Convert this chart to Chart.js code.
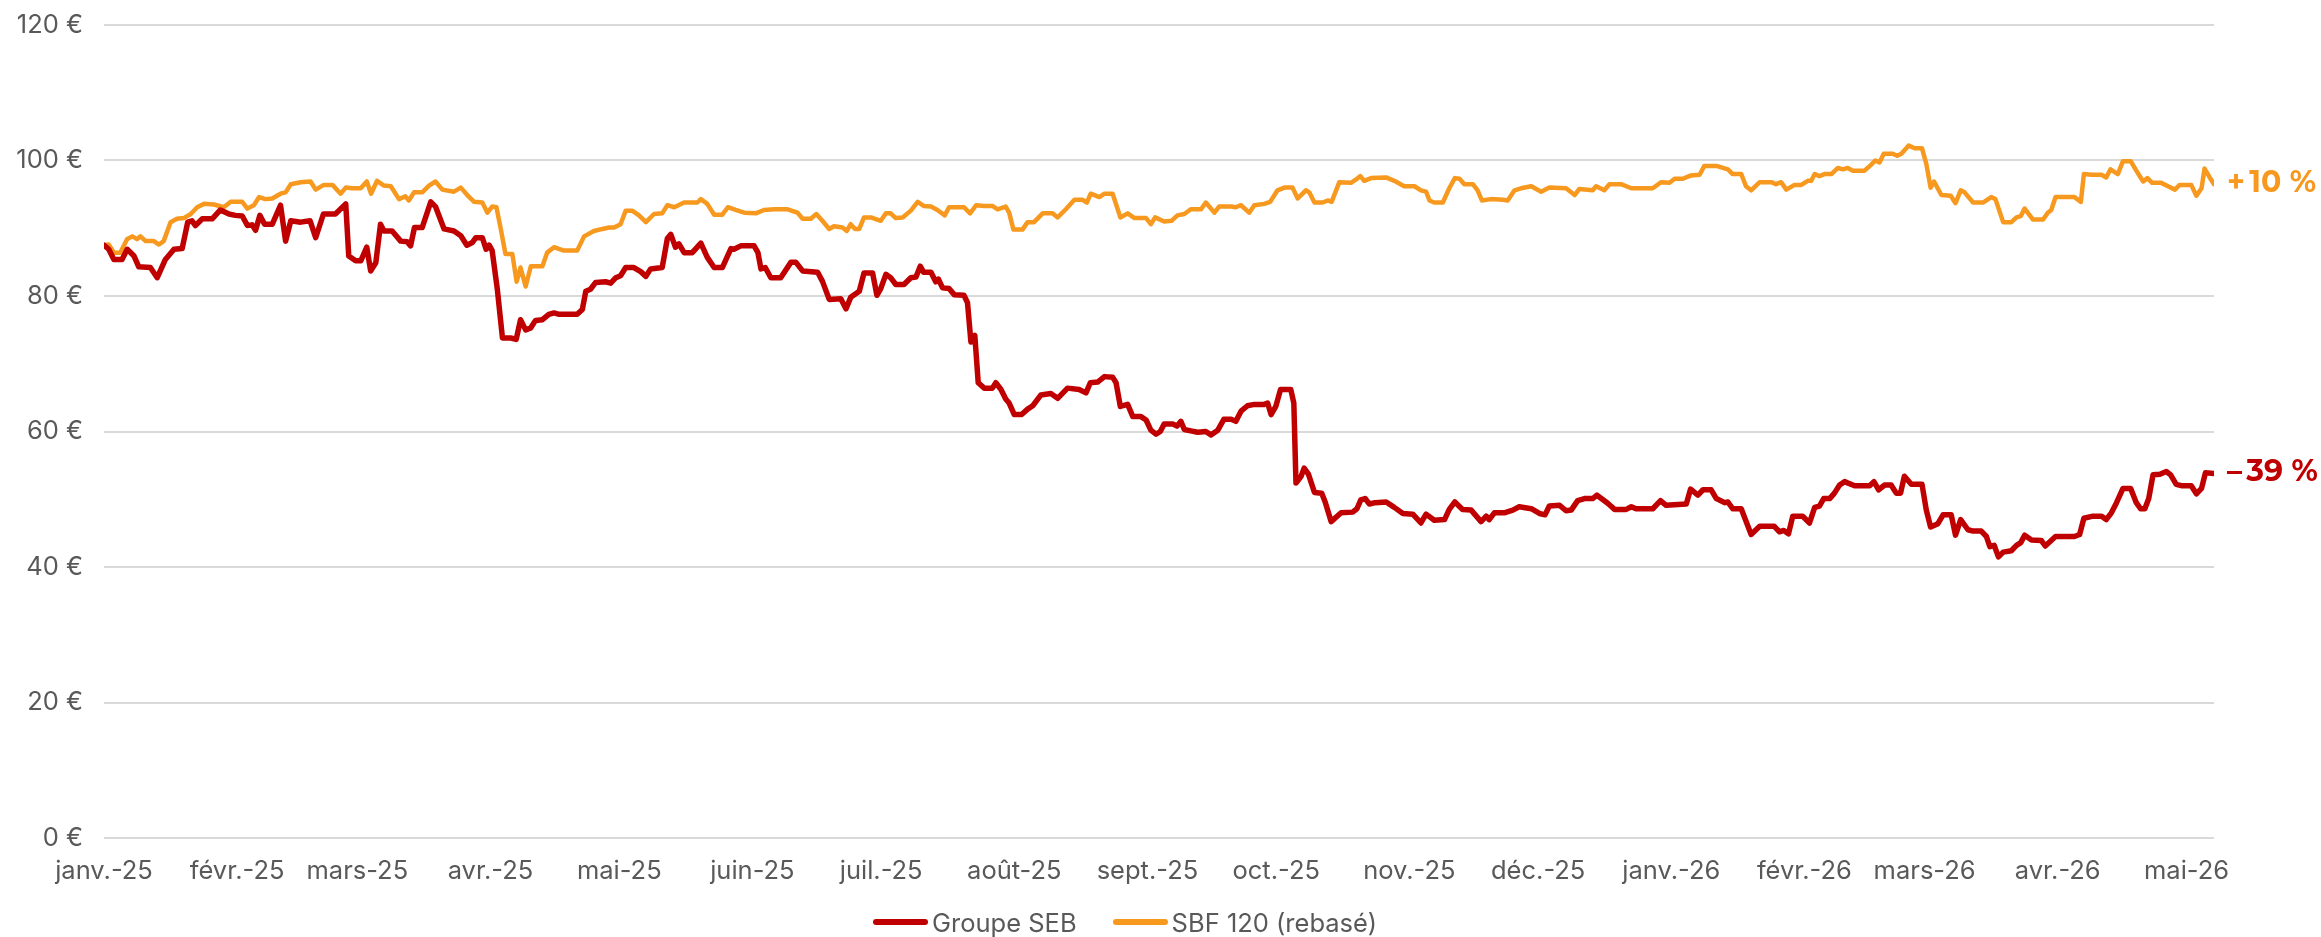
<!DOCTYPE html>
<html lang="fr">
<head>
<meta charset="utf-8">
<title>Groupe SEB vs SBF 120</title>
<script src="https://cdn.jsdelivr.net/npm/chart.js@4.4.1/dist/chart.umd.min.js"></script>
<style>
  html, body { margin: 0; padding: 0; background: #ffffff; }
  #wrap { position: relative; width: 2321px; height: 937px; }
  #chart { position: absolute; left: 0; top: 0; }
  #legend { position: absolute; left: 873px; top: 905px; height: 34px; display: flex; align-items: center;
            font-family: Inter, "Noto Sans", sans-serif; font-size: 25.5px; color: #595959; white-space: nowrap; }
  .item { display: flex; align-items: center; margin-right: 36px; }
  .mark { display: inline-block; width: 55px; height: 6px; border-radius: 3px; margin-right: 4px; }
</style>
</head>
<body>
<div id="wrap">
  <canvas id="chart" width="2321" height="937"></canvas>
  <div id="legend"></div>
</div>
<script>
// ---- Data (days counted from 2025-01-01) ----
const seriesNames = ['Groupe SEB', 'SBF 120 (rebasé)'];
const seriesColors = ['#C00000', '#F7981F'];
const endLabels = ['\u2013\u200939\u00a0%', '+\u200910\u00a0%'];

const sebDays = [0.0,1.1,2.3,4.2,5.4,7.0,8.1,10.8,12.4,14.3,16.3,18.2,19.5,20.5,21.3,22.9,25.2,27.1,29.1,30.6,32.2,33.4,34.5,35.3,36.3,37.4,39.2,41.1,42.3,43.5,45.8,48.0,49.3,51.1,53.9,56.3,57.0,58.6,59.8,61.2,62.1,63.3,64.4,65.2,67.1,69.1,70.6,71.4,72.3,74.1,76.1,77.2,79.2,81.5,83.1,84.5,85.8,86.6,88.1,89.0,89.7,90.4,91.6,92.8,94.7,96.0,97.0,98.2,99.4,100.5,102.1,103.6,104.8,106.0,110.2,111.4,112.2,113.3,114.5,116.8,118.0,119.2,120.3,121.5,123.4,125.0,126.2,127.3,130.0,131.2,132.0,133.1,133.9,135.1,137.0,139.0,140.5,142.1,144.0,146.0,146.7,148.3,151.4,152.3,153.0,154.0,155.3,157.6,160.0,161.1,162.7,166.2,167.3,168.9,171.6,172.8,173.9,175.9,177.0,179.0,180.0,180.9,182.1,183.2,184.4,186.3,187.9,189.1,190.1,190.9,192.6,193.7,194.3,195.3,196.8,198.0,200.3,201.1,201.9,202.8,203.6,205.0,206.9,207.7,208.9,210.0,210.8,212.0,213.7,215.1,216.3,218.2,220.5,222.1,224.4,227.1,228.7,229.7,231.4,233.0,234.9,235.7,236.7,238.4,239.6,241.5,242.7,243.8,245.0,246.0,246.9,248.9,249.9,250.8,251.6,253.1,254.7,256.6,257.8,259.4,260.8,262.5,263.6,264.8,266.3,267.9,270.2,271.0,271.8,272.9,274.0,276.4,277.1,277.6,278.8,279.5,280.5,281.9,283.6,284.4,285.8,288.1,290.8,291.8,292.7,293.7,294.7,296.0,298.6,300.5,302.5,304.8,306.7,307.9,309.8,312.2,313.3,314.6,316.4,318.4,320.7,321.9,322.6,323.8,326.1,328.1,329.6,332.4,334.3,335.6,336.6,339.0,340.5,341.7,343.2,344.8,346.7,347.7,350.2,351.8,354.5,355.7,356.8,360.7,362.5,363.8,368.5,369.5,371.2,372.4,374.3,375.5,377.4,378.2,379.3,381.3,383.6,385.6,389.0,390.2,391.2,392.3,393.3,395.6,397.2,398.4,399.5,400.5,401.9,403.0,404.2,405.4,406.5,407.7,411.2,412.2,413.3,414.7,416.2,417.4,418.4,419.3,420.9,423.4,424.4,425.4,427.1,428.3,430.2,431.2,432.4,434.1,435.3,437.2,438.4,439.2,440.2,441.2,442.3,444.2,445.4,446.4,447.3,448.9,451.2,452.1,454.5,458.9,460.1,461.1,463.2,465.2,466.3,467.5,468.7,470.2,472.0,473.3,474.3,475.3,476.2,477.2,478.8,480.3,481.3,482.6,483.8,486.1,487.3,488.5,489.4,491.4];
const sebValues = [87.5,86.9,85.4,85.4,86.9,85.9,84.3,84.2,82.7,85.4,86.9,87.0,90.9,91.1,90.4,91.4,91.4,92.7,92.1,91.9,91.8,90.4,90.5,89.7,91.9,90.6,90.6,93.4,88.1,91.1,90.9,91.1,88.6,92.1,92.1,93.6,85.9,85.2,85.2,87.2,83.7,84.9,90.6,89.6,89.6,88.1,88.0,87.4,90.1,90.1,93.9,93.2,89.9,89.6,88.9,87.5,87.9,88.6,88.6,86.9,87.5,86.7,81.0,73.8,73.8,73.6,76.5,75.0,75.3,76.4,76.5,77.3,77.5,77.3,77.3,78.0,80.7,81.0,82.0,82.1,81.9,82.7,83.0,84.2,84.2,83.6,82.9,84.0,84.2,88.5,89.1,87.2,87.7,86.4,86.4,87.8,85.7,84.2,84.2,87.0,86.9,87.4,87.4,86.4,84.0,84.2,82.7,82.7,85.0,85.0,83.7,83.5,82.2,79.5,79.6,78.1,79.8,80.7,83.4,83.4,80.1,81.1,83.2,82.7,81.7,81.7,82.7,82.8,84.4,83.5,83.5,82.1,82.5,81.2,81.1,80.2,80.1,79.0,73.2,74.2,67.2,66.4,66.4,67.2,66.2,64.8,64.2,62.5,62.5,63.3,63.8,65.4,65.6,64.9,66.4,66.2,65.7,67.2,67.3,68.1,68.0,67.2,63.7,64.0,62.2,62.2,61.7,60.2,59.6,60.0,61.1,61.1,60.8,61.5,60.3,60.1,59.9,60.0,59.5,60.2,61.8,61.8,61.5,63.0,63.8,64.0,64.0,64.2,62.5,63.7,66.2,66.2,64.2,52.4,53.4,54.6,53.7,51.0,50.9,49.6,46.7,48.0,48.1,48.6,49.9,50.1,49.3,49.5,49.6,48.8,47.9,47.8,46.5,47.8,46.9,47.0,48.5,49.6,48.5,48.4,46.7,47.5,47.0,48.0,48.0,48.4,48.9,48.6,47.9,47.7,49.0,49.1,48.3,48.4,49.8,50.1,50.1,50.6,49.4,48.5,48.5,48.9,48.6,48.6,49.8,49.1,49.3,51.5,50.6,51.4,51.4,50.1,49.5,49.6,48.6,48.6,44.8,46.0,46.0,45.2,45.4,44.9,47.5,47.5,46.5,48.8,49.0,50.1,50.1,50.9,52.1,52.6,52.3,52.0,52.0,52.6,51.4,52.1,52.1,50.9,50.9,53.4,52.2,52.2,48.4,45.9,46.4,47.7,47.7,44.7,47.0,45.5,45.3,45.3,44.5,43.0,43.2,41.5,42.2,42.4,43.2,43.6,44.7,44.0,43.9,43.1,44.5,44.5,44.8,47.2,47.5,47.5,47.0,48.0,49.5,51.6,51.6,49.5,48.6,48.6,50.1,53.6,53.7,54.1,53.6,52.2,52.0,52.0,50.8,51.6,53.9,53.8];

const sbfDays = [0.0,1.1,2.3,3.8,5.4,6.6,7.7,8.5,9.7,11.6,12.8,13.9,15.5,17.0,18.6,20.2,21.7,23.3,25.6,27.9,29.5,32.2,33.4,34.9,36.1,37.6,39.2,41.1,42.3,43.5,45.8,48.1,49.3,51.2,53.2,55.1,56.3,57.8,59.8,61.2,62.2,63.6,65.2,66.8,68.7,70.2,71.0,72.2,74.1,75.7,77.2,78.8,81.5,83.1,84.6,86.2,88.1,89.3,90.4,91.4,92.4,93.5,95.1,96.1,97.0,98.2,99.4,102.1,103.2,104.8,107.1,110.2,111.8,114.1,116.1,117.6,118.8,120.3,121.5,123.0,124.6,126.2,128.1,130.0,131.2,132.8,135.1,138.2,139.0,140.5,142.1,144.0,145.3,147.1,149.1,151.8,153.7,156.1,159.2,161.5,162.7,164.6,165.9,167.3,168.9,170.0,172.0,173.0,173.9,174.9,175.9,177.0,178.6,180.9,182.1,183.2,184.4,186.0,187.9,189.5,190.9,192.6,194.1,195.8,196.8,200.3,201.7,203.1,205.0,206.9,208.1,210.0,210.8,211.8,213.9,215.1,216.6,218.6,220.9,222.1,224.0,226.0,227.9,228.9,229.8,231.8,233.0,234.9,236.7,238.4,240.0,242.7,243.8,244.8,246.9,248.6,250.0,251.6,253.1,255.5,256.6,258.6,259.7,262.5,263.6,264.8,266.7,267.9,270.2,271.6,273.3,274.9,276.8,278.0,279.9,280.7,281.9,283.8,285.0,285.9,287.7,290.4,291.6,292.6,293.5,295.1,298.6,300.5,302.8,305.2,306.7,307.9,308.7,309.8,311.8,313.3,314.6,315.7,316.8,318.8,319.9,320.9,323.0,325.8,326.9,328.5,330.0,332.4,334.7,336.6,340.5,342.5,343.6,346.7,347.5,349.4,350.6,353.3,355.7,360.7,362.6,364.6,365.8,367.7,369.6,371.6,372.7,375.5,378.2,379.3,381.3,382.4,383.6,385.6,388.3,389.4,390.6,391.8,393.7,395.3,396.8,397.6,398.4,399.5,400.7,402.3,403.8,405.0,406.1,407.3,410.0,411.6,412.5,413.5,414.5,416.6,417.6,418.6,420.3,421.7,423.4,424.4,425.4,426.2,427.9,430.1,431.2,432.4,433.3,435.3,437.6,439.5,440.5,442.3,444.2,445.4,446.4,447.3,449.2,451.6,452.7,453.5,454.5,458.9,460.4,461.1,462.8,465.2,466.3,467.3,469.0,470.2,472.0,473.3,474.9,475.9,477.0,479.1,480.7,482.3,483.4,486.1,487.3,488.5,489.2,490.4,491.4];
const sbfValues = [87.5,87.6,86.4,86.4,88.4,88.8,88.4,88.8,88.1,88.1,87.6,88.1,90.9,91.4,91.5,92.1,93.1,93.6,93.5,93.1,93.9,93.9,92.9,93.4,94.6,94.3,94.4,95.1,95.3,96.5,96.8,96.9,95.7,96.4,96.4,95.1,96.0,95.9,95.9,96.9,95.1,97.0,96.3,96.2,94.3,94.7,94.1,95.3,95.3,96.3,96.9,95.7,95.4,96.0,94.9,93.9,93.8,92.3,93.2,93.1,89.9,86.2,86.2,82.1,84.2,81.4,84.4,84.4,86.4,87.2,86.7,86.7,88.8,89.6,89.9,90.1,90.1,90.6,92.6,92.6,91.9,90.9,92.1,92.2,93.4,93.1,93.8,93.8,94.3,93.6,92.0,92.0,93.1,92.7,92.3,92.2,92.7,92.8,92.8,92.3,91.4,91.4,92.1,91.1,89.9,90.3,90.1,89.6,90.6,89.9,89.9,91.6,91.6,91.1,92.2,92.2,91.5,91.6,92.6,93.9,93.3,93.2,92.7,91.9,93.1,93.1,92.2,93.4,93.3,93.3,92.8,93.2,92.3,89.8,89.8,90.9,90.9,92.2,92.2,91.6,92.8,94.2,94.2,93.8,95.1,94.6,95.1,95.1,91.6,92.2,91.5,91.5,90.6,91.6,91.0,91.1,91.9,92.1,92.8,92.8,93.8,92.3,93.2,93.2,93.1,93.4,92.3,93.4,93.6,93.9,95.6,96.0,96.0,94.4,95.6,95.3,93.8,93.8,94.1,93.9,96.8,96.7,97.2,97.7,97.0,97.4,97.5,97.0,96.2,96.2,95.6,95.4,94.1,93.8,93.8,95.9,97.4,97.3,96.5,96.5,95.6,94.1,94.3,94.2,94.1,95.6,95.9,96.2,95.4,96.0,95.9,94.9,95.8,95.6,96.2,95.6,96.5,96.5,95.9,95.9,96.8,96.7,97.3,97.3,97.8,97.9,99.2,99.2,98.7,98.0,98.0,96.2,95.6,96.8,96.8,96.5,96.8,95.7,96.4,96.4,97.0,97.0,98.0,97.7,98.0,98.0,98.9,98.7,98.9,98.5,98.5,99.4,100.0,99.7,101.0,101.0,100.7,101.0,102.2,101.8,101.8,99.5,96.0,96.9,94.9,94.8,93.7,95.6,95.3,93.8,93.8,94.6,94.3,90.9,90.9,91.6,91.8,92.9,91.3,91.3,92.3,92.7,94.6,94.6,93.9,98.0,97.9,97.9,97.5,98.7,98.0,99.9,99.9,98.5,96.9,97.4,96.7,96.7,96.2,95.7,96.4,96.4,94.8,95.9,98.8,97.5,96.5];

// ---- Tick labels ----
const monthStarts = ['2025-01-01','2025-02-01','2025-03-01','2025-04-01','2025-05-01','2025-06-01','2025-07-01','2025-08-01','2025-09-01','2025-10-01','2025-11-01','2025-12-01','2026-01-01','2026-02-01','2026-03-01','2026-04-01','2026-05-01'];
const monthLabels = ['janv.-25','févr.-25','mars-25','avr.-25','mai-25','juin-25','juil.-25','août-25','sept.-25','oct.-25','nov.-25','déc.-25','janv.-26','févr.-26','mars-26','avr.-26','mai-26'];
const yTickValues = [0, 20, 40, 60, 80, 100, 120];
const yTickLabels = ['0 €', '20 €', '40 €', '60 €', '80 €', '100 €', '120 €'];

// ---- Build ----
const origin = Date.UTC(2025, 0, 1);
const monthDays = monthStarts.map(s => {
  const [y, m, d] = s.split('-').map(Number);
  return Math.round((Date.UTC(y, m - 1, d) - origin) / 86400000);
});
const toPoints = (xs, ys) => xs.map((x, i) => ({ x: x, y: ys[i] }));
const lastDay = Math.max(sebDays[sebDays.length - 1], sbfDays[sbfDays.length - 1]);

const endLabelPlugin = {
  id: 'endLabels',
  afterDatasetsDraw(chart) {
    const ctx = chart.ctx;
    ctx.save();
    ctx.font = '700 30px Montserrat, "DejaVu Sans", Inter, sans-serif';
    ctx.textBaseline = 'middle';
    ctx.textAlign = 'left';
    chart.data.datasets.forEach((ds, i) => {
      const meta = chart.getDatasetMeta(i);
      const pt = meta.data[meta.data.length - 1];
      ctx.fillStyle = ds.borderColor;
      ctx.fillText(endLabels[i], chart.chartArea.right + 13, pt.y - 1);
    });
    ctx.restore();
  }
};

const textColor = '#595959';
const tickFont = { family: 'Inter, "Noto Sans", sans-serif', size: 25.5 };

new Chart(document.getElementById('chart'), {
  type: 'line',
  data: {
    datasets: [
      { label: seriesNames[0], data: toPoints(sebDays, sebValues), borderColor: seriesColors[0], backgroundColor: seriesColors[0], borderWidth: 5.5 },
      { label: seriesNames[1], data: toPoints(sbfDays, sbfValues), borderColor: seriesColors[1], backgroundColor: seriesColors[1], borderWidth: 4.5 }
    ]
  },
  options: {
    responsive: false,
    animation: false,
    elements: { point: { radius: 0, hoverRadius: 0 }, line: { tension: 0, borderJoinStyle: 'round', borderCapStyle: 'round' } },
    layout: { padding: { top: 25, right: 107, left: 0, bottom: 0 } },
    plugins: { legend: { display: false }, tooltip: { enabled: false } },
    scales: {
      x: {
        type: 'linear',
        min: 0,
        max: lastDay,
        grid: { display: false },
        border: { display: false },
        afterBuildTicks: (scale) => { scale.ticks = monthDays.map(v => ({ value: v })); },
        afterFit: (scale) => { scale.height = 99; scale.paddingLeft = 0; scale.paddingRight = 0; },
        ticks: {
          autoSkip: false, maxRotation: 0, minRotation: 0, padding: 10,
          color: textColor, font: tickFont,
          callback: (v, i) => monthLabels[i]
        }
      },
      y: {
        min: 0,
        max: 120,
        grid: { color: '#d9d9d9', lineWidth: 2, drawTicks: false },
        border: { display: false },
        afterBuildTicks: (scale) => { scale.ticks = yTickValues.map(v => ({ value: v })); },
        afterFit: (scale) => { scale.width = 104; scale.paddingTop = 0; scale.paddingBottom = 0; },
        ticks: {
          padding: 21, color: textColor, font: tickFont,
          callback: (v, i) => yTickLabels[i]
        }
      }
    }
  },
  plugins: [endLabelPlugin]
});

// ---- HTML legend ----
const legend = document.getElementById('legend');
seriesNames.forEach((name, i) => {
  const item = document.createElement('div');
  item.className = 'item';
  const mark = document.createElement('span');
  mark.className = 'mark';
  mark.style.background = seriesColors[i];
  const label = document.createElement('span');
  label.textContent = name;
  item.appendChild(mark);
  item.appendChild(label);
  legend.appendChild(item);
});
</script>
</body>
</html>
